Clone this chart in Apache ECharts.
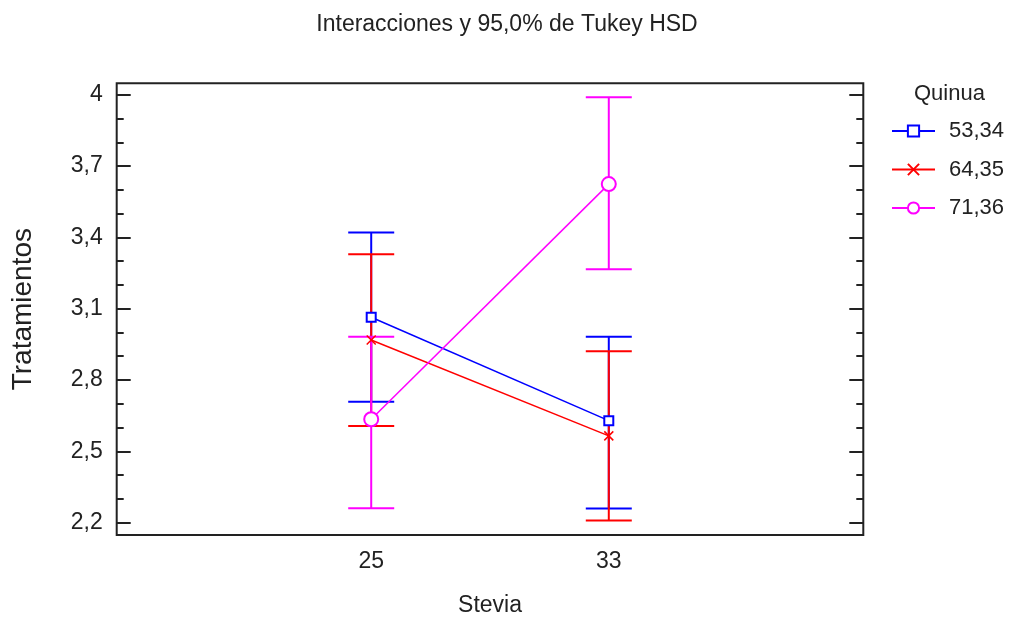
<!DOCTYPE html>
<html>
<head>
<meta charset="utf-8">
<script src="https://cdn.jsdelivr.net/npm/echarts@6/dist/echarts.min.js"></script>
<style>html,body{margin:0;padding:0;background:#fff}#c{width:1014px;height:618px}</style>
</head>
<body>
<div id="c"></div>
<script>
const stevia = [25, 33];
const groupNames = ['53,34', '64,35', '71,36'];
const means53 = [3.064, 2.629];
const low53 = [2.708, 2.259];
const high53 = [3.420, 2.982];
const means64 = [2.968, 2.565];
const low64 = [2.606, 2.209];
const high64 = [3.329, 2.921];
const means71 = [2.635, 3.624];
const low71 = [2.261, 3.266];
const high71 = [2.982, 3.989];
const yMajor = [2.2, 2.5, 2.8, 3.1, 3.4, 3.7, 4.0];
const yMinor = [2.3, 2.4, 2.6, 2.7, 2.9, 3.0, 3.2, 3.3, 3.5, 3.6, 3.8, 3.9];

const FONT = "'Liberation Sans', Arial, sans-serif";
const TXT = '#222';
const colors = ['#0000ff', '#ff0000', '#ff00ff'];
const means = [means53, means64, means71];
const lows = [low53, low64, low71];
const highs = [high53, high64, high71];
const symbols = ['emptyRect', 'path://M0,0L10,10M10,0L0,10', 'emptyCircle'];
const symSizes = [9, 9, 14];

const yMin = 2.148, yMax = 4.048;
function yAxisDef(pos, ticks, len, labels) {
  return {
    type: 'value', position: pos, min: yMin, max: yMax,
    splitLine: {show: false}, axisLine: {show: false},
    axisTick: {show: true, inside: true, length: len, customValues: ticks, lineStyle: {color: '#222', width: 2}},
    axisLabel: labels ? {show: true, customValues: ticks, margin: 14, fontSize: 23, fontFamily: FONT, color: TXT,
      formatter: v => String(+v.toFixed(1)).replace('.', ',')} : {show: false}
  };
}

const series = [];
for (let g = 0; g < 3; g++) {
  series.push({
    type: 'custom', name: 'err' + g, xAxisIndex: 0, yAxisIndex: 0, z: 2,
    data: stevia.map((x, i) => [x, lows[g][i], highs[g][i]]),
    renderItem: function (params, api) {
      const x = api.value(0);
      const lo = api.coord([x, api.value(1)]);
      const hi = api.coord([x, api.value(2)]);
      const w = 23;
      const st = {stroke: colors[g], lineWidth: 2};
      return {type: 'group', children: [
        {type: 'line', shape: {x1: lo[0], y1: lo[1], x2: hi[0], y2: hi[1]}, style: st},
        {type: 'line', shape: {x1: lo[0] - w, y1: lo[1], x2: lo[0] + w, y2: lo[1]}, style: st},
        {type: 'line', shape: {x1: hi[0] - w, y1: hi[1], x2: hi[0] + w, y2: hi[1]}, style: st}
      ]};
    }
  });
}
for (let g = 0; g < 3; g++) {
  series.push({
    type: 'line', name: groupNames[g], xAxisIndex: 0, yAxisIndex: 0, z: 3,
    data: stevia.map((x, i) => [x, means[g][i]]),
    symbol: symbols[g], symbolSize: symSizes[g], showAllSymbol: true,
    lineStyle: {color: colors[g], width: 1.5},
    itemStyle: {color: colors[g], borderColor: colors[g], borderWidth: 1.5},
    emphasis: {disabled: true}, animation: false
  });
}

const chart = echarts.init(document.getElementById('c'), null, {renderer: 'canvas'});
chart.setOption({
  animation: false,
  backgroundColor: '#fff',
  title: [
    {text: 'Interacciones y 95,0% de Tukey HSD', left: 'center', top: 8,
     textStyle: {fontSize: 23, fontWeight: 'normal', fontFamily: FONT, color: TXT}},
    {text: 'Quinua', left: 909, top: 78,
     textStyle: {fontSize: 22, fontWeight: 'normal', fontFamily: FONT, color: TXT}}
  ],
  legend: {
    data: groupNames, orient: 'vertical', left: 886, top: 115,
    itemWidth: 43, itemHeight: 14, itemGap: 16.5,
    textStyle: {fontSize: 22, fontFamily: FONT, color: TXT, padding: [0, 0, 0, 9]}
  },
  grid: {left: 116.7, top: 83.3, right: 150.7, bottom: 83, show: true, borderColor: '#222', borderWidth: 2,
    containLabel: false, outerBoundsMode: 'none'},
  xAxis: {
    type: 'value', min: 16.43, max: 41.57,
    name: 'Stevia', nameLocation: 'middle', nameGap: 59,
    nameTextStyle: {fontSize: 23, fontFamily: FONT, color: TXT},
    splitLine: {show: false}, axisLine: {show: false}, axisTick: {show: false},
    axisLabel: {customValues: stevia, margin: 15, fontSize: 23, fontFamily: FONT, color: TXT}
  },
  yAxis: [
    Object.assign(yAxisDef('left', yMajor, 14, true), {
      name: 'Tratamientos', nameLocation: 'middle', nameGap: 79, nameRotate: 90,
      nameTextStyle: {fontSize: 28, fontFamily: FONT, color: TXT}}),
    yAxisDef('left', yMinor, 7, false),
    yAxisDef('right', yMajor, 14, false),
    yAxisDef('right', yMinor, 7, false)
  ],
  series: series
});
</script>
</body>
</html>
